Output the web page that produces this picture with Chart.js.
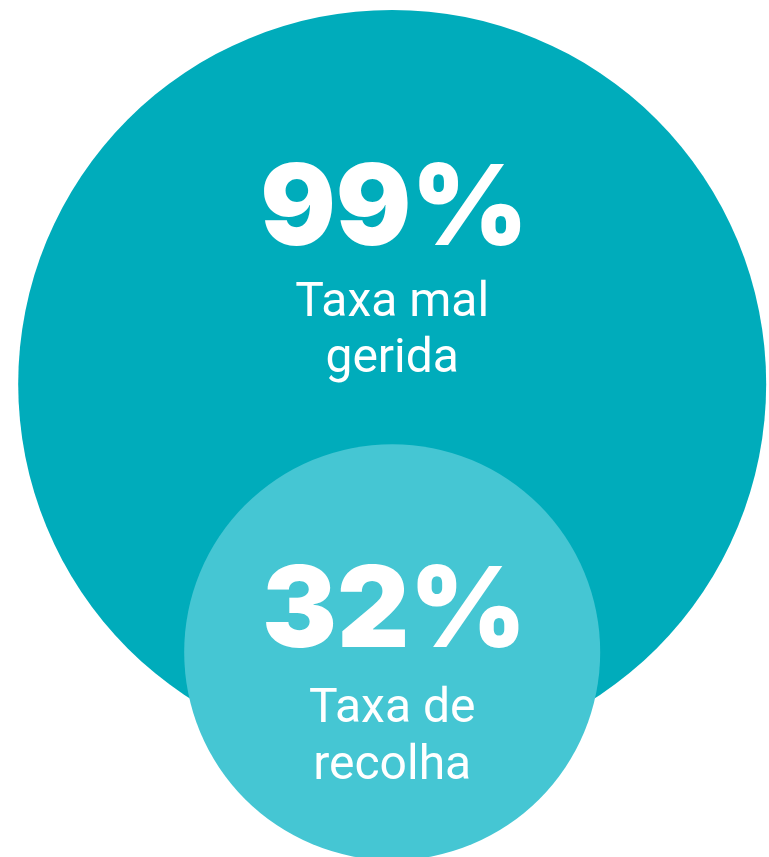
<!DOCTYPE html>
<html>
<head>
<meta charset="utf-8">
<script src="https://cdn.jsdelivr.net/npm/chart.js@4.4.1/dist/chart.umd.min.js"></script>
<style>
  html, body { margin: 0; padding: 0; background: #ffffff; }
  #wrap { width: 769px; height: 857px; }
</style>
</head>
<body>
<div id="wrap"><canvas id="chart"></canvas></div>
<script>
// values and labels
const categories = ['Taxa mal gerida', 'Taxa de recolha'];
const labelLines = [['Taxa mal', 'gerida'], ['Taxa de', 'recolha']];
const percents = [99, 32];
const centerX = [51, 51];
const centerY = [55.2, 23.9];
const radii = [374, 208];

const colors = ['#00acbb', '#45c6d3'];

// big number baseline and text line offsets from each bubble centre
const textOffsets = [
    { num: -139, lines: [-68, -12] },
    { num: -5, lines: [70, 127] }
];

const bubbleText = {
    id: 'bubbleText',
    afterDatasetsDraw(chart) {
        const ctx = chart.ctx;
        ctx.save();
        ctx.fillStyle = '#ffffff';
        ctx.textAlign = 'center';
        ctx.textBaseline = 'alphabetic';
        chart.data.datasets.forEach((ds, i) => {
            const el = chart.getDatasetMeta(i).data[0];
            const off = textOffsets[i];
            ctx.font = '900 112px Inter, "DejaVu Sans", sans-serif';
            ctx.fillText(percents[i] + '%', el.x + 2, el.y + off.num);
            ctx.font = '400 48px Roboto, sans-serif';
            labelLines[i].forEach((line, j) => {
                ctx.fillText(line, el.x, el.y + off.lines[j]);
            });
        });
        ctx.restore();
    }
};

new Chart(document.getElementById('chart'), {
    type: 'bubble',
    data: {
        datasets: categories.map((name, i) => ({
            label: name,
            data: [{ x: centerX[i], y: centerY[i], r: radii[i] }],
            backgroundColor: colors[i],
            borderWidth: 0,
            hoverRadius: 0,
            clip: false,
            order: categories.length - i
        }))
    },
    options: {
        responsive: true,
        maintainAspectRatio: false,
        animation: false,
        layout: { padding: 0, autoPadding: false },
        plugins: {
            legend: { display: false },
            tooltip: { enabled: false }
        },
        scales: {
            x: { display: false, min: 0, max: 100 },
            y: { display: false, min: 0, max: 100 }
        }
    },
    plugins: [bubbleText]
});
</script>
</body>
</html>
